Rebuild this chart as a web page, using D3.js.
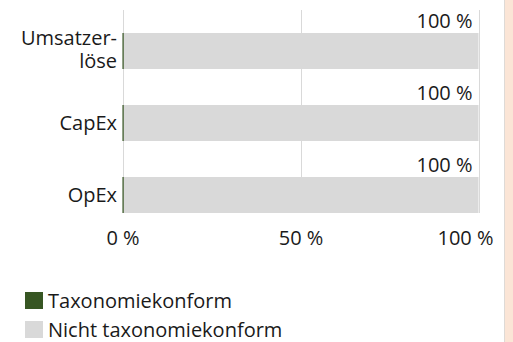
<!DOCTYPE html>
<html>
<head>
<meta charset="utf-8">
<script src="https://cdn.jsdelivr.net/npm/d3@7"></script>
<style>
  html, body { margin: 0; padding: 0; background: #fff; }
  svg text { font-family: "Open Sans", "Liberation Sans", sans-serif; fill: #1a1a1a; }
</style>
</head>
<body>
<svg id="chart" width="513" height="342"></svg>
<script>
const categories = ["Umsatzerlöse", "CapEx", "OpEx"];
const categoryLines = [["Umsatzer-", "löse"], ["CapEx"], ["OpEx"]];
const conformValues = [0, 0, 0];
const nonConformValues = [100, 100, 100];
const dataLabels = ["100 %", "100 %", "100 %"];
const xTicks = [0, 50, 100];
const xTickLabels = ["0 %", "50 %", "100 %"];
const legendLabels = ["Taxonomiekonform", "Nicht taxonomiekonform"];
const colors = ["#375623", "#D9D9D9"];

const svg = d3.select("#chart");
const W = 513, H = 342;
const FS = 20;

// right side peach strip
svg.append("rect").attr("x", 505).attr("y", 0).attr("width", 8).attr("height", H).attr("fill", "#FBE5D6");
svg.append("line").attr("x1", 504.5).attr("x2", 504.5).attr("y1", 0).attr("y2", H).attr("stroke", "#DEDAD6").attr("stroke-width", 1);

const x = d3.scaleLinear().domain([0, 100]).range([122.5, 478.5]);
const y = d3.scaleBand().domain(categories).range([15, 231]).paddingInner(0.5).paddingOuter(0.25);
const plotTop = 10, plotBottom = y(categories[2]) + y.bandwidth();

// gridlines
svg.append("g").selectAll("line").data(xTicks).join("line")
  .attr("x1", d => Math.round(x(d)) + 0.5).attr("x2", d => Math.round(x(d)) + 0.5)
  .attr("y1", plotTop).attr("y2", plotBottom)
  .attr("stroke", "#D9D9D9").attr("stroke-width", 1);

// stacked bars
const rows = categories.map((c, i) => ({c, a: conformValues[i], b: nonConformValues[i], label: dataLabels[i], lines: categoryLines[i]}));
svg.append("g").selectAll("rect").data(rows).join("rect")
  .attr("x", d => x(d.a)).attr("y", d => y(d.c))
  .attr("width", d => x(d.a + d.b) - x(d.a)).attr("height", y.bandwidth())
  .attr("fill", colors[1]);
svg.append("g").selectAll("rect").data(rows).join("rect")
  .attr("x", d => x(0)).attr("y", d => y(d.c))
  .attr("width", d => Math.max(1.2, x(d.a) - x(0))).attr("height", y.bandwidth())
  .attr("fill", colors[0]);

// data labels
svg.append("g").selectAll("text").data(rows).join("text")
  .attr("x", d => x(d.a + d.b) - 6).attr("y", d => y(d.c) - 5)
  .attr("text-anchor", "end").attr("font-size", FS)
  .text(d => d.label);

// category labels
const cat = svg.append("g").selectAll("text").data(rows).join("text")
  .attr("text-anchor", "end").attr("font-size", FS)
  .attr("x", 117)
  .attr("y", d => y(d.c) + y.bandwidth() / 2 + 7 - (d.lines.length - 1) * 13);
cat.selectAll("tspan").data(d => d.lines).join("tspan")
  .attr("x", 117).attr("dy", (d, i) => i === 0 ? 0 : 23).text(d => d);

// x axis labels
const xAxis = d3.axisBottom(x).tickValues(xTicks).tickSize(0).tickPadding(0).tickFormat((d, i) => xTickLabels[i]);
const ax = svg.append("g").attr("transform", `translate(0, ${plotBottom + 32})`).call(xAxis);
ax.select(".domain").remove();
ax.selectAll("text").attr("font-size", FS).attr("fill", "#1a1a1a").attr("y", 0).attr("dy", 0)
  .attr("text-anchor", (d, i) => i === xTicks.length - 1 ? "end" : "middle")
  .attr("dx", (d, i) => i === xTicks.length - 1 ? 14.5 : 0);

// legend
const lg = svg.append("g").selectAll("g").data(legendLabels).join("g")
  .attr("transform", (d, i) => `translate(25, ${292 + i * 29})`);
lg.append("rect").attr("width", 18).attr("height", 17).attr("fill", (d, i) => colors[i]);
lg.append("text").attr("x", 23).attr("y", 16).attr("font-size", FS).text(d => d);
</script>
</body>
</html>
